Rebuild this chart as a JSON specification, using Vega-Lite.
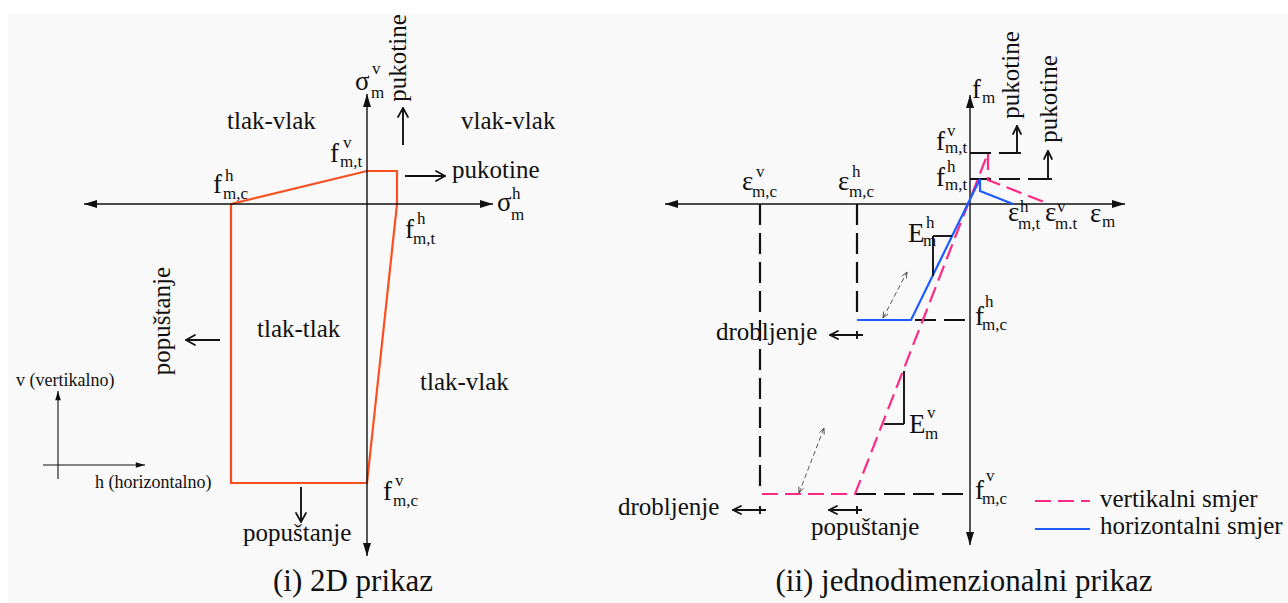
{
  "$schema": "https://vega.github.io/schema/vega-lite/v6.json",
  "width": 1288,
  "height": 603,
  "autosize": {"type": "none"},
  "padding": 0,
  "background": "#ffffff",
  "config": {"view": {"stroke": null}, "text": {"font": "Liberation Serif", "color": "#111111"}},
  "datasets": {
    "panel": [{"x": 8, "y": 13, "x2": 1288, "y2": 603}],
    "envelope": [
      {"o": 1, "x": 231, "y": 204}, {"o": 2, "x": 367, "y": 171}, {"o": 3, "x": 397, "y": 171},
      {"o": 4, "x": 397, "y": 204}, {"o": 5, "x": 367, "y": 483}, {"o": 6, "x": 231, "y": 483},
      {"o": 7, "x": 231, "y": 204}
    ],
    "vertical": [
      {"o": 1, "x": 762, "y": 494}, {"o": 2, "x": 855, "y": 494}, {"o": 3, "x": 988, "y": 153},
      {"o": 4, "x": 988, "y": 180}, {"o": 5, "x": 1049, "y": 204}
    ],
    "horizontal": [
      {"o": 1, "x": 857, "y": 320}, {"o": 2, "x": 911, "y": 320}, {"o": 3, "x": 980, "y": 179},
      {"o": 4, "x": 980, "y": 191}, {"o": 5, "x": 1013, "y": 204}
    ],
    "axes": [
      {"x": 84, "y": 204, "x2": 493, "y2": 204},
      {"x": 367, "y": 94, "x2": 367, "y2": 556},
      {"x": 665, "y": 204, "x2": 1125, "y2": 204},
      {"x": 970, "y": 95, "x2": 970, "y2": 545}
    ],
    "axesSmall": [
      {"x": 58, "y": 479, "x2": 58, "y2": 391},
      {"x": 43, "y": 465, "x2": 145, "y2": 465}
    ],
    "tips": [
      {"x": 84, "y": 204, "dir": "left"}, {"x": 493, "y": 204, "dir": "right"},
      {"x": 367, "y": 94, "dir": "up"}, {"x": 367, "y": 556, "dir": "down"},
      {"x": 665, "y": 204, "dir": "left"}, {"x": 1125, "y": 204, "dir": "right"},
      {"x": 970, "y": 95, "dir": "up"}, {"x": 970, "y": 545, "dir": "down"}
    ],
    "tipsSmall": [{"x": 58, "y": 391, "dir": "up"}, {"x": 145, "y": 465, "dir": "right"}],
    "levels": [
      {"x": 970, "y": 153, "x2": 1017, "y2": 153},
      {"x": 970, "y": 179, "x2": 1048, "y2": 179},
      {"x": 857, "y": 320, "x2": 970, "y2": 320},
      {"x": 855, "y": 494, "x2": 970, "y2": 494},
      {"x": 760, "y": 204, "x2": 760, "y2": 494},
      {"x": 857, "y": 204, "x2": 857, "y2": 320}
    ],
    "pointers": [
      {"x": 403, "y": 145, "x2": 403, "y2": 108}, {"x": 405, "y": 176, "x2": 445, "y2": 176},
      {"x": 220, "y": 340, "x2": 186, "y2": 340}, {"x": 301, "y": 487, "x2": 301, "y2": 522},
      {"x": 1017, "y": 153, "x2": 1017, "y2": 126}, {"x": 1048, "y": 179, "x2": 1048, "y2": 151},
      {"x": 830, "y": 335, "x2": 863, "y2": 335}, {"x": 733, "y": 510, "x2": 766, "y2": 510},
      {"x": 829, "y": 510, "x2": 862, "y2": 510},
      {"x": 1013, "y": 153, "x2": 1021, "y2": 153}, {"x": 1044, "y": 179, "x2": 1052, "y2": 179},
      {"x": 857, "y": 331, "x2": 857, "y2": 339}, {"x": 760, "y": 506, "x2": 760, "y2": 514},
      {"x": 857, "y": 506, "x2": 857, "y2": 514},
      {"x": 933, "y": 236, "x2": 952, "y2": 236}, {"x": 933, "y": 236, "x2": 933, "y2": 276},
      {"x": 904, "y": 371, "x2": 904, "y2": 424}, {"x": 884, "y": 424, "x2": 904, "y2": 424}
    ],
    "barbs": [
      {"x": 398, "y": 117, "x2": 403, "y2": 108}, {"x": 408, "y": 117, "x2": 403, "y2": 108},
      {"x": 436, "y": 171, "x2": 445, "y2": 176}, {"x": 436, "y": 181, "x2": 445, "y2": 176},
      {"x": 195, "y": 335, "x2": 186, "y2": 340}, {"x": 195, "y": 345, "x2": 186, "y2": 340},
      {"x": 296, "y": 513, "x2": 301, "y2": 522}, {"x": 306, "y": 513, "x2": 301, "y2": 522},
      {"x": 1013, "y": 134, "x2": 1017, "y2": 126}, {"x": 1021, "y": 134, "x2": 1017, "y2": 126},
      {"x": 1044, "y": 159, "x2": 1048, "y2": 151}, {"x": 1052, "y": 159, "x2": 1048, "y2": 151},
      {"x": 838, "y": 331, "x2": 830, "y2": 335}, {"x": 838, "y": 339, "x2": 830, "y2": 335},
      {"x": 741, "y": 506, "x2": 733, "y2": 510}, {"x": 741, "y": 514, "x2": 733, "y2": 510},
      {"x": 837, "y": 506, "x2": 829, "y2": 510}, {"x": 837, "y": 514, "x2": 829, "y2": 510}
    ],
    "hints": [
      {"x": 883, "y": 318, "x2": 907, "y2": 272},
      {"x": 799, "y": 493, "x2": 824, "y2": 428}
    ],
    "hintBarbs": [
      {"x": 906.4, "y": 278.5, "x2": 907, "y2": 272}, {"x": 902, "y": 276.1, "x2": 907, "y2": 272},
      {"x": 888, "y": 313.9, "x2": 883, "y2": 318}, {"x": 883.6, "y": 311.5, "x2": 883, "y2": 318},
      {"x": 824.2, "y": 434.5, "x2": 824, "y2": 428}, {"x": 819.5, "y": 432.7, "x2": 824, "y2": 428},
      {"x": 803.5, "y": 488.3, "x2": 799, "y2": 493}, {"x": 798.8, "y": 486.5, "x2": 799, "y2": 493}
    ],
    "legendV": [{"x": 1035, "y": 501, "x2": 1090, "y2": 501}],
    "legendH": [{"x": 1035, "y": 529, "x2": 1090, "y2": 529}],
    "symbols": [
      {"t": "σ", "x": 355, "y": 90}, {"t": "f", "x": 330, "y": 162}, {"t": "f", "x": 213, "y": 193},
      {"t": "σ", "x": 497, "y": 211}, {"t": "f", "x": 405, "y": 238}, {"t": "f", "x": 383, "y": 500},
      {"t": "f", "x": 972, "y": 98}, {"t": "f", "x": 936, "y": 150}, {"t": "f", "x": 936, "y": 186},
      {"t": "ε", "x": 742, "y": 190}, {"t": "ε", "x": 838, "y": 190}, {"t": "ε", "x": 1008, "y": 221},
      {"t": "ε", "x": 1045, "y": 221}, {"t": "ε", "x": 1090, "y": 222}, {"t": "E", "x": 908, "y": 242},
      {"t": "E", "x": 909, "y": 433}, {"t": "f", "x": 975, "y": 325}, {"t": "f", "x": 975, "y": 499}
    ],
    "scripts": [
      {"t": "v", "x": 372, "y": 74}, {"t": "m", "x": 371, "y": 98},
      {"t": "v", "x": 343, "y": 148}, {"t": "m,t", "x": 340, "y": 167},
      {"t": "h", "x": 225, "y": 181}, {"t": "m,c", "x": 223, "y": 199},
      {"t": "h", "x": 512, "y": 199}, {"t": "m", "x": 511, "y": 220},
      {"t": "h", "x": 417, "y": 224}, {"t": "m,t", "x": 413, "y": 244},
      {"t": "v", "x": 395, "y": 486}, {"t": "m,c", "x": 393, "y": 506},
      {"t": "m", "x": 982, "y": 103},
      {"t": "v", "x": 947, "y": 136}, {"t": "m,t", "x": 945, "y": 153},
      {"t": "h", "x": 947, "y": 172}, {"t": "m,t", "x": 945, "y": 190},
      {"t": "v", "x": 756, "y": 177}, {"t": "m,c", "x": 752, "y": 197},
      {"t": "h", "x": 852, "y": 177}, {"t": "m,c", "x": 849, "y": 197},
      {"t": "h", "x": 1020, "y": 212}, {"t": "m,t", "x": 1018, "y": 229},
      {"t": "v", "x": 1057, "y": 212}, {"t": "m.t", "x": 1055, "y": 229},
      {"t": "m", "x": 1102, "y": 227},
      {"t": "h", "x": 926, "y": 228}, {"t": "m", "x": 923, "y": 246},
      {"t": "v", "x": 927, "y": 418}, {"t": "m", "x": 925, "y": 439},
      {"t": "h", "x": 985, "y": 307}, {"t": "m,c", "x": 982, "y": 330},
      {"t": "v", "x": 986, "y": 481}, {"t": "m,c", "x": 982, "y": 504}
    ],
    "words": [
      {"t": "tlak-vlak", "x": 227, "y": 129}, {"t": "vlak-vlak", "x": 461, "y": 129},
      {"t": "pukotine", "x": 452, "y": 178}, {"t": "tlak-tlak", "x": 257, "y": 337},
      {"t": "tlak-vlak", "x": 420, "y": 390}, {"t": "popuštanje", "x": 243, "y": 541},
      {"t": "drobljenje", "x": 716, "y": 340}, {"t": "drobljenje", "x": 618, "y": 515},
      {"t": "popuštanje", "x": 811, "y": 535}
    ],
    "legendText": [
      {"t": "vertikalni smjer", "x": 1100, "y": 507}, {"t": "horizontalni smjer", "x": 1100, "y": 534}
    ],
    "directions": [
      {"t": "v (vertikalno)", "x": 16, "y": 386}, {"t": "h (horizontalno)", "x": 95, "y": 488}
    ],
    "rotated": [
      {"t": "pukotine", "x": 398, "y": 58}, {"t": "pukotine", "x": 1011, "y": 75},
      {"t": "pukotine", "x": 1049, "y": 99}, {"t": "popuštanje", "x": 162, "y": 321}
    ],
    "titles": [
      {"t": "(i) 2D prikaz", "x": 353, "y": 591},
      {"t": "(ii) jednodimenzionalni prikaz", "x": 964, "y": 591}
    ]
  },
  "encoding": {
    "x": {"field": "x", "type": "quantitative", "scale": {"domain": [0, 1288], "nice": false, "zero": false}, "axis": null},
    "y": {"field": "y", "type": "quantitative", "scale": {"domain": [0, 603], "nice": false, "zero": false, "reverse": true}, "axis": null}
  },
  "layer": [
    {"data": {"name": "panel"}, "mark": {"type": "rect", "fill": "#f9f9f9"},
     "encoding": {"x2": {"field": "x2"}, "y2": {"field": "y2"}}},
    {"data": {"name": "envelope"}, "mark": {"type": "line", "stroke": "#fa4f1e", "strokeWidth": 2.2},
     "encoding": {"order": {"field": "o"}}},
    {"data": {"name": "levels"}, "mark": {"type": "rule", "stroke": "#111111", "strokeWidth": 2.2, "strokeDash": [21, 8]},
     "encoding": {"x2": {"field": "x2"}, "y2": {"field": "y2"}}},
    {"data": {"name": "axes"}, "mark": {"type": "rule", "stroke": "#111111", "strokeWidth": 1.4},
     "encoding": {"x2": {"field": "x2"}, "y2": {"field": "y2"}}},
    {"data": {"name": "axesSmall"}, "mark": {"type": "rule", "stroke": "#111111", "strokeWidth": 1.1},
     "encoding": {"x2": {"field": "x2"}, "y2": {"field": "y2"}}},
    {"data": {"name": "vertical"}, "mark": {"type": "line", "stroke": "#fc2a86", "strokeWidth": 2.2, "strokeDash": [16, 7]},
     "encoding": {"order": {"field": "o"}}},
    {"data": {"name": "horizontal"}, "mark": {"type": "line", "stroke": "#1f5cff", "strokeWidth": 2.2},
     "encoding": {"order": {"field": "o"}}},
    {"data": {"name": "pointers"}, "mark": {"type": "rule", "stroke": "#111111", "strokeWidth": 1.9},
     "encoding": {"x2": {"field": "x2"}, "y2": {"field": "y2"}}},
    {"data": {"name": "barbs"}, "mark": {"type": "rule", "stroke": "#111111", "strokeWidth": 1.7, "strokeCap": "round"},
     "encoding": {"x2": {"field": "x2"}, "y2": {"field": "y2"}}},
    {"data": {"name": "hints"}, "mark": {"type": "rule", "stroke": "#444444", "strokeWidth": 0.9, "strokeDash": [5, 3]},
     "encoding": {"x2": {"field": "x2"}, "y2": {"field": "y2"}}},
    {"data": {"name": "hintBarbs"}, "mark": {"type": "rule", "stroke": "#444444", "strokeWidth": 0.9},
     "encoding": {"x2": {"field": "x2"}, "y2": {"field": "y2"}}},
    {"data": {"name": "legendV"}, "mark": {"type": "rule", "stroke": "#fc2a86", "strokeWidth": 2.2, "strokeDash": [16, 7]},
     "encoding": {"x2": {"field": "x2"}, "y2": {"field": "y2"}}},
    {"data": {"name": "legendH"}, "mark": {"type": "rule", "stroke": "#1f5cff", "strokeWidth": 2.2},
     "encoding": {"x2": {"field": "x2"}, "y2": {"field": "y2"}}},
    {"data": {"name": "tips"}, "mark": {"type": "point", "filled": true, "fill": "#111111", "strokeWidth": 0, "size": 100, "opacity": 1},
     "encoding": {"shape": {"field": "dir", "type": "nominal", "legend": null,
       "scale": {"domain": ["left", "right", "up", "down"],
                 "range": ["M0,0L2.6,-0.8L2.6,0.8Z", "M0,0L-2.6,-0.8L-2.6,0.8Z", "M0,0L-0.8,2.6L0.8,2.6Z", "M0,0L-0.8,-2.6L0.8,-2.6Z"]}}}},
    {"data": {"name": "tipsSmall"}, "mark": {"type": "point", "filled": true, "fill": "#111111", "strokeWidth": 0, "size": 50, "opacity": 1},
     "encoding": {"shape": {"field": "dir", "type": "nominal", "legend": null,
       "scale": {"domain": ["left", "right", "up", "down"],
                 "range": ["M0,0L2.6,-0.8L2.6,0.8Z", "M0,0L-2.6,-0.8L-2.6,0.8Z", "M0,0L-0.8,2.6L0.8,2.6Z", "M0,0L-0.8,-2.6L0.8,-2.6Z"]}}}},
    {"data": {"name": "symbols"}, "mark": {"type": "text", "fontSize": 27, "align": "left", "baseline": "alphabetic"},
     "encoding": {"text": {"field": "t"}}},
    {"data": {"name": "scripts"}, "mark": {"type": "text", "fontSize": 17, "align": "left", "baseline": "alphabetic"},
     "encoding": {"text": {"field": "t"}}},
    {"data": {"name": "words"}, "mark": {"type": "text", "fontSize": 25, "align": "left", "baseline": "alphabetic"},
     "encoding": {"text": {"field": "t"}}},
    {"data": {"name": "legendText"}, "mark": {"type": "text", "fontSize": 25, "align": "left", "baseline": "alphabetic"},
     "encoding": {"text": {"field": "t"}}},
    {"data": {"name": "directions"}, "mark": {"type": "text", "fontSize": 18, "align": "left", "baseline": "alphabetic"},
     "encoding": {"text": {"field": "t"}}},
    {"data": {"name": "rotated"}, "mark": {"type": "text", "fontSize": 25, "angle": 270, "align": "center", "baseline": "middle"},
     "encoding": {"text": {"field": "t"}}},
    {"data": {"name": "titles"}, "mark": {"type": "text", "fontSize": 31, "align": "center", "baseline": "alphabetic"},
     "encoding": {"text": {"field": "t"}}}
  ]
}
